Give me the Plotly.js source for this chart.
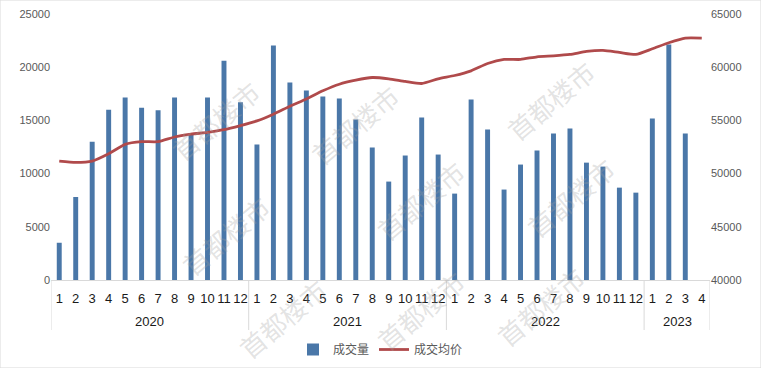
<!DOCTYPE html>
<html>
<head>
<meta charset="utf-8">
<script src="https://cdn.plot.ly/plotly-3.0.1.min.js"></script>
<style>
html,body{margin:0;padding:0;background:#fff;}
#chart{width:761px;height:368px;}
</style>
</head>
<body>
<div id="chart"></div>
<script>
const years = ["2020","2020","2020","2020","2020","2020","2020","2020","2020","2020","2020","2020",
  "2021","2021","2021","2021","2021","2021","2021","2021","2021","2021","2021","2021",
  "2022","2022","2022","2022","2022","2022","2022","2022","2022","2022","2022","2022",
  "2023","2023","2023","2023"];
const months = ["1","2","3","4","5","6","7","8","9","10","11","12",
  "1","2","3","4","5","6","7","8","9","10","11","12",
  "1","2","3","4","5","6","7","8","9","10","11","12",
  "1","2","3","4"];
const volume = [3500,7800,13000,16000,17150,16200,15950,17150,13750,17150,20600,16700,
  12730,22040,18560,17800,17240,17050,15080,12450,9250,11700,15270,11790,
  8120,16960,14140,8500,10850,12160,13760,14230,11030,10660,8680,8210,
  15170,22130,13760,null];
const avgPrice = [51180,51060,51180,51870,52750,53000,53000,53440,53700,53880,54130,54510,
  54950,55580,56330,57020,57780,58400,58780,59030,58910,58660,58470,58910,
  59220,59660,60350,60730,60730,60980,61070,61200,61480,61580,61390,61200,
  61730,62300,62740,62740];
const seriesNames = ["成交量","成交均价"];
const watermarkText = "首都楼市";

// category keys built from the year/month arrays
const cats = years.map((y, i) => y + "-" + months[i]);

const traces = [
  {type:"bar", name:seriesNames[0], x:cats, y:volume, marker:{color:"#4a77a8"}, yaxis:"y"},
  {type:"scatter", mode:"lines", name:seriesNames[1], x:cats, y:avgPrice, yaxis:"y2",
   line:{color:"#b04a4b", width:2.8, shape:"spline", smoothing:0.6}}
];

// year groups derived from the years array
const groups = [];
years.forEach((y, i) => {
  if (!groups.length || groups[groups.length-1].year !== y) groups.push({year:y, start:i, end:i});
  else groups[groups.length-1].end = i;
});

const yearLabels = groups.map(g => ({
  xref:"x", yref:"paper", x:(g.start + g.end)/2, y:(280-321)/266,
  text:g.year, showarrow:false, xanchor:"center", yanchor:"middle",
  font:{family:"Liberation Sans", size:13, color:"#1a1a1a"}
}));

const dividerBounds = [groups[0].start - 0.5].concat(groups.map(g => g.end + 0.5));
const dividers = dividerBounds.map(b => ({
  type:"line", xref:"x", yref:"paper", x0:b, x1:b, y0:0, y1:(280-330)/266,
  line:{color:"#d9d9d9", width:1}
}));

const wmPos = [[215,120],[225,235],[355,125],[420,200],[550,100],[570,197],[420,310],[540,306],[282,318]];
const watermarks = wmPos.map(p => ({
  xref:"paper", yref:"paper", text:watermarkText, showarrow:false,
  xanchor:"center", yanchor:"middle",
  x:(p[0]-51)/659, y:(280-p[1])/266, textangle:-40,
  font:{family:"Noto Sans CJK SC", size:26, color:"rgba(160,160,160,0.3)"}
}));

const layout = {
  width:761, height:368,
  margin:{l:51, r:51, t:14, b:88},
  paper_bgcolor:"#ffffff", plot_bgcolor:"#ffffff",
  font:{family:"Liberation Sans, Noto Sans CJK SC", size:12, color:"#595959"},
  bargap:0.7,
  showlegend:true,
  legend:{orientation:"h", x:0.5, xanchor:"center", yref:"container", y:(368-335)/368, yanchor:"top",
    font:{family:"Noto Sans CJK SC", size:12, color:"#595959"}},
  xaxis:{type:"category", showline:true, linecolor:"#d9d9d9", ticks:"",
    tickangle:0, tickvals:cats, ticktext:months, ticklabelstandoff:6, automargin:false,
    range:[-0.5, cats.length - 0.5],
    tickfont:{size:13, color:"#1a1a1a"}},
  yaxis:{range:[0,25000], dtick:5000, tickformat:"d", showgrid:false, zeroline:false,
    tickfont:{size:11, color:"#595959"}},
  yaxis2:{range:[40000,65000], dtick:5000, tickformat:"d", overlaying:"y", side:"right",
    showgrid:false, zeroline:false, tickfont:{size:11, color:"#595959"}},
  annotations:yearLabels.concat(watermarks),
  shapes:dividers.concat([{type:"rect", xref:"paper", yref:"paper", x0:-51/659, x1:710/659, y0:-88/266, y1:1+14/266,
    line:{color:"#d9d9d9", width:1}}])
};
Plotly.newPlot("chart", traces, layout, {displayModeBar:false, staticPlot:true});
</script>
</body>
</html>
